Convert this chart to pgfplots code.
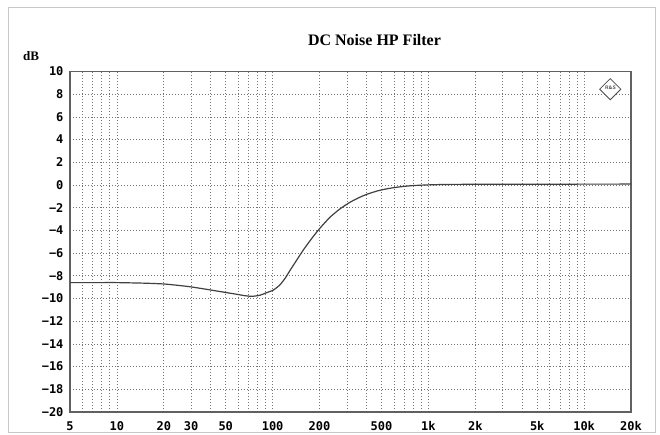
\documentclass[border=0pt]{standalone}
\usepackage{pgfplots}
\pgfplotsset{compat=1.18}
\usepackage{fontspec}
\setmainfont{Liberation Serif}
\newfontfamily\tickfont{DejaVu Sans Mono Bold}
\begin{document}
\begin{tikzpicture}[x=1pt,y=1pt]
\path[use as bounding box] (0,0) rectangle (660,435);
\draw[black!22, line width=0.6pt] (8,3) rectangle (655,428);
\begin{axis}[
  at={(70pt,23pt)}, anchor=south west,
  scale only axis, width=561pt, height=340.5pt,
  xmode=log, xmin=5, xmax=20000, ymin=-20, ymax=10,
  log basis x=10,
  xtick={5,10,20,30,50,100,200,500,1000,2000,5000,10000,20000},
  xticklabels={5,10,20,30,50,100,200,500,1k,2k,5k,10k,20k},
  minor xtick={6,7,8,9,40,60,70,80,90,300,400,600,700,800,900,3000,4000,6000,7000,8000,9000},
  ytick={-20,-18,...,10},
  yticklabels={−20,−18,−16,−14,−12,−10,−8,−6,−4,−2,0,2,4,6,8,10},
  major tick length=0pt, minor tick length=0pt,
  grid=both,
  major grid style={black!55, line width=0.6pt, dash pattern=on 0.8pt off 2.2pt},
  minor grid style={black!55, line width=0.6pt, dash pattern=on 0.8pt off 2.2pt},
  axis line style={black!62, line width=1.8pt},
  tick label style={font=\tickfont\fontsize{12}{12}\selectfont, text=black},
  xticklabel style={yshift=-6pt},
  yticklabel style={xshift=-3pt},
  clip=true,
]
\addplot[black!75, line width=1.2pt, smooth, tension=0.35] coordinates {
(5,-8.6) (8,-8.6) (10,-8.6) (15,-8.65) (20,-8.72) (25,-8.85) (30,-8.98)
(40,-9.25) (50,-9.47) (60,-9.65) (67,-9.76) (74,-9.81) (83,-9.71) (91,-9.5)
(101,-9.26) (111,-8.82) (120,-8.24) (129,-7.55) (143,-6.6) (157,-5.75)
(178,-4.72) (200,-3.85) (233,-2.85) (271,-2.1) (314,-1.52) (364,-1.07)
(410,-0.78) (477,-0.5) (540,-0.34) (610,-0.22) (700,-0.12) (800,-0.05)
(1000,0.01) (1309,0.05) (2000,0.06) (5000,0.07) (20000,0.08)
};
\node[draw=black!70, fill=white, line width=0.8pt, rotate=45, minimum size=15pt, inner sep=0pt]
  at (rel axis cs:0.963,0.948) {};
\end{axis}
\node[font=\sffamily\bfseries\fontsize{5}{5}\selectfont, text=black!75, inner sep=0pt]
  at (610.5,347.5) {R\&S};
\node[font=\bfseries\fontsize{16}{16}\selectfont] at (374.5,395) {DC Noise HP Filter};
\node[font=\bfseries\fontsize{13}{13}\selectfont] at (31,379) {dB};
\end{tikzpicture}
\end{document}
